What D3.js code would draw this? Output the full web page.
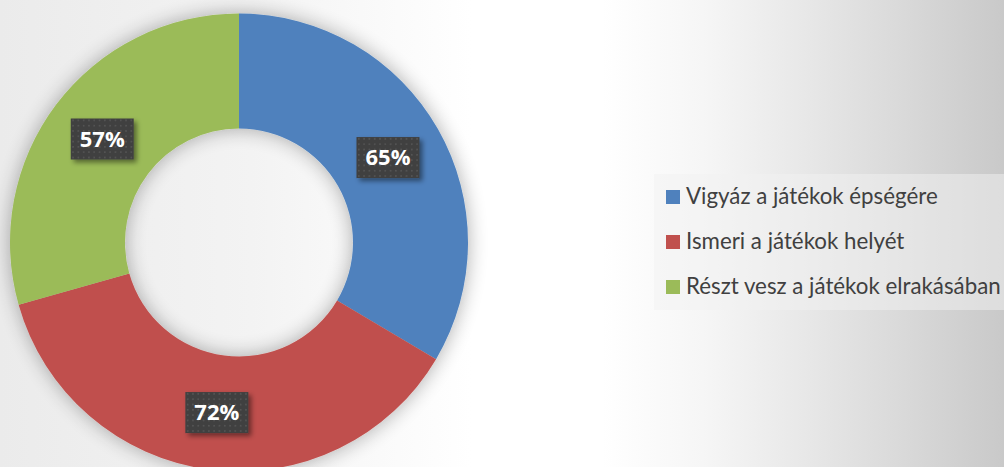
<!DOCTYPE html>
<html>
<head>
<meta charset="utf-8">
<script src="https://cdn.jsdelivr.net/npm/d3@7"></script>
<style>
  html, body { margin: 0; padding: 0; overflow: hidden; }
  svg { display: block; }
</style>
</head>
<body>
<svg id="chart"></svg>
<script>
// ================================
// DATA
// ================================
const categories = [
    "Vigyáz a játékok épségére",
    "Ismeri a játékok helyét",
    "Részt vesz a játékok elrakásában"
];
const values = [65, 72, 57];
const labels = ["65%", "72%", "57%"];
const colors = ["#4f81bd", "#c0504d", "#9bbb59"];

// ================================
// SVG SETUP
// ================================
const width = 1004;
const height = 467;

const svg = d3.select("#chart")
    .attr("width", width)
    .attr("height", height);

const defs = svg.append("defs");

// background gradient (white in the middle, grey to the sides)
const bgGrad = defs.append("linearGradient")
    .attr("id", "bg-grad")
    .attr("gradientUnits", "userSpaceOnUse")
    .attr("x1", 0).attr("y1", 0)
    .attr("x2", width).attr("y2", 0);
[
    [0, "#ebebeb"],
    [0.25, "#f3f3f3"],
    [0.47, "#ffffff"],
    [0.6, "#ffffff"],
    [0.7, "#f6f6f6"],
    [0.8, "#e8e8e8"],
    [0.9, "#d9d9d9"],
    [1, "#c9c9c9"]
].forEach(([o, c]) => bgGrad.append("stop").attr("offset", o).attr("stop-color", c));

svg.append("rect")
    .attr("width", width)
    .attr("height", height)
    .attr("fill", "url(#bg-grad)");

// soft shadow around the donut
const donutShadow = defs.append("filter")
    .attr("id", "donut-shadow")
    .attr("x", "-30%").attr("y", "-30%")
    .attr("width", "160%").attr("height", "160%");
donutShadow.append("feGaussianBlur")
    .attr("in", "SourceAlpha")
    .attr("stdDeviation", 10)
    .attr("result", "blur");
donutShadow.append("feComponentTransfer")
    .attr("in", "blur")
    .attr("result", "soft")
    .append("feFuncA").attr("type", "linear").attr("slope", 0.32);
const dm = donutShadow.append("feMerge");
dm.append("feMergeNode").attr("in", "soft");
dm.append("feMergeNode").attr("in", "SourceGraphic");

// label box shadow
const boxShadow = defs.append("filter")
    .attr("id", "box-shadow")
    .attr("x", "-30%").attr("y", "-30%")
    .attr("width", "170%").attr("height", "180%");
boxShadow.append("feDropShadow")
    .attr("dx", 3).attr("dy", 3)
    .attr("stdDeviation", 2.5)
    .attr("flood-color", "#000")
    .attr("flood-opacity", 0.45);

// dotted texture for the labels
const dots = defs.append("pattern")
    .attr("id", "dots")
    .attr("patternUnits", "userSpaceOnUse")
    .attr("width", 5.3).attr("height", 5.3);
dots.append("rect").attr("width", 5.3).attr("height", 5.3).attr("fill", "#3f3f3f");
dots.append("circle").attr("cx", 2.6).attr("cy", 2.6).attr("r", 1).attr("fill", "#545454");

// ================================
// DONUT
// ================================
const cx = 239, cy = 242.5;
const outerR = 229, innerR = 114;

const pie = d3.pie().sort(null).value(d => d);
const arc = d3.arc().innerRadius(innerR).outerRadius(outerR);

const gDonut = svg.append("g")
    .attr("transform", `translate(${cx}, ${cy})`);

const arcs = pie(values);

gDonut.append("g")
    .attr("filter", "url(#donut-shadow)")
    .selectAll("path")
    .data(arcs)
    .join("path")
    .attr("d", arc)
    .attr("fill", (d, i) => colors[i]);

// ✅ DATA LABELS
const boxW = 63, boxH = 41;
const lab = gDonut.selectAll("g.lbl")
    .data(arcs)
    .join("g")
    .attr("class", "lbl")
    .attr("transform", d => `translate(${arc.centroid(d)})`);

lab.append("rect")
    .attr("x", -boxW / 2)
    .attr("y", -boxH / 2)
    .attr("width", boxW)
    .attr("height", boxH)
    .attr("fill", "url(#dots)")
    .attr("filter", "url(#box-shadow)");

lab.append("text")
    .attr("text-anchor", "middle")
    .attr("dy", "0.36em")
    .attr("font-family", "'Open Sans', sans-serif")
    .attr("font-weight", "700")
    .attr("font-size", "22px")
    .attr("fill", "#ffffff")
    .text((d, i) => labels[i]);

// ================================
// LEGEND
// ================================
const legend = svg.append("g")
    .attr("transform", "translate(654, 174)");

legend.append("rect")
    .attr("width", 360)
    .attr("height", 136)
    .attr("fill", "#f2f2f2")
    .attr("fill-opacity", 0.5);

const items = legend.selectAll(".legend-item")
    .data(categories)
    .join("g")
    .attr("class", "legend-item")
    .attr("transform", (d, i) => `translate(12, ${16 + i * 45})`);

items.append("rect")
    .attr("width", 14)
    .attr("height", 14)
    .attr("fill", (d, i) => colors[i]);

items.append("text")
    .attr("x", 20)
    .attr("y", 14)
    .attr("font-family", "Lato, sans-serif")
    .attr("font-size", "22.3px")
    .attr("fill", "#404040")
    .text(d => d);
</script>
</body>
</html>
